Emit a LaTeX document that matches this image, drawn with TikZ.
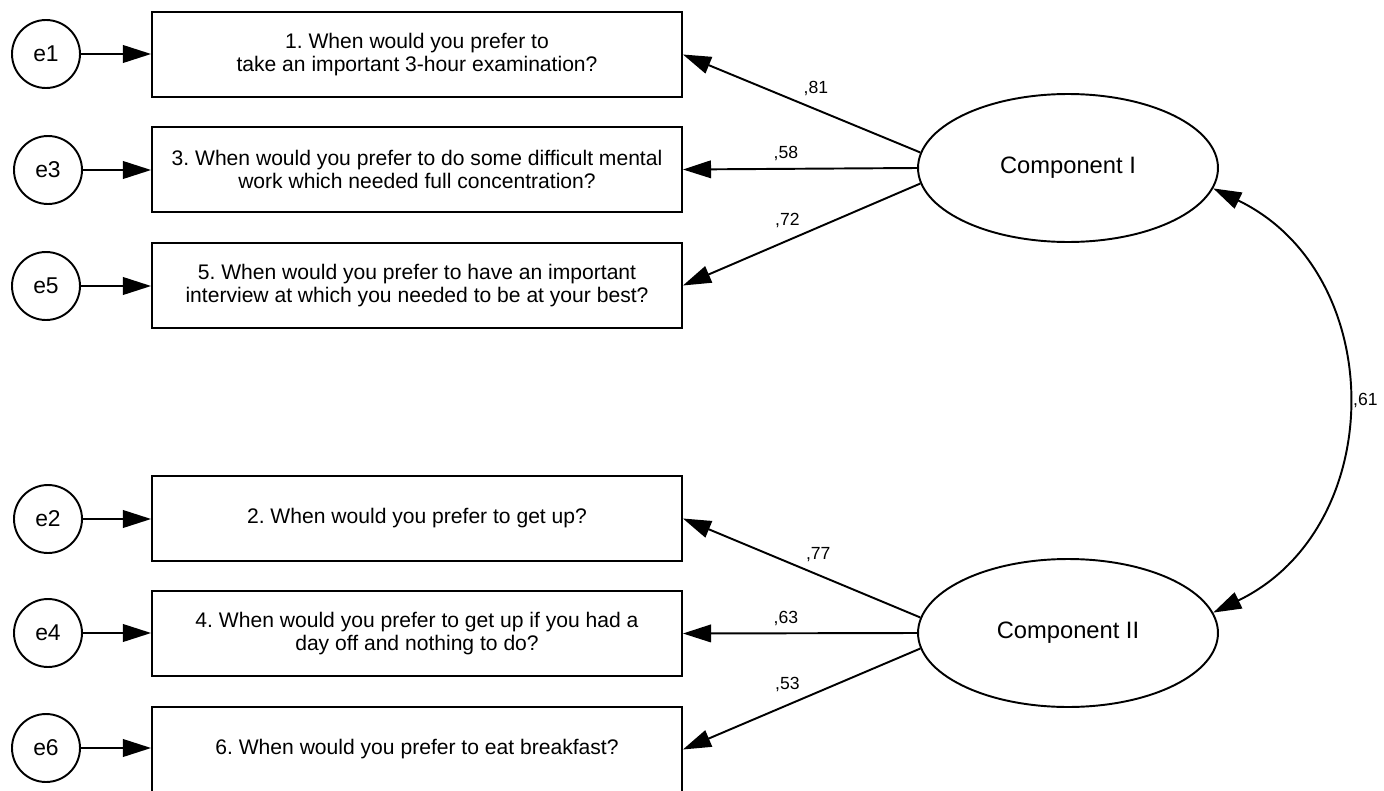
\documentclass[tikz,border=0pt]{standalone}
\usepackage{fontspec}
\setmainfont{Liberation Sans}
\usetikzlibrary{arrows.meta,shapes.geometric}
\frenchspacing

\begin{document}
\begin{tikzpicture}[x=0.02cm,y=-0.02cm,line width=1.1pt,
  item/.style={draw,rectangle,minimum width=10.6cm,minimum height=1.7cm,align=center,
    font=\fontsize{12}{13}\selectfont},
  err/.style={draw,circle,minimum size=1.36cm,inner sep=0pt,font=\fontsize{13}{15}\selectfont},
  factor/.style={draw,ellipse,minimum width=6cm,minimum height=2.96cm,inner sep=0pt,
    font=\fontsize{13.5}{16}\selectfont},
  load/.style={-{Triangle[length=16pt,width=10pt]}},
  cov/.style={{Triangle[length=16pt,width=10pt]}-{Triangle[length=16pt,width=10pt]}},
  est/.style={font=\fontsize{10}{12}\selectfont,inner sep=1pt}]
  \useasboundingbox (0,0) rectangle (1384,791);

  % observed items
  \node[item] (q1) at (417,54.5) {1. When would you prefer to\\take an important 3-hour examination?};
  \node[item] (q3) at (417,169.5) {3. When would you prefer to do some difficult mental\\work which needed full concentration?};
  \node[item] (q5) at (417,285.5) {5. When would you prefer to have an important\\interview at which you needed to be at your best?};
  \node[item] (q2) at (417,518.5) {2. When would you prefer to get up?};
  \node[item] (q4) at (417,633.5) {4. When would you prefer to get up if you had a\\day off and nothing to do?};
  \node[item] (q6) at (417,749.5) {6. When would you prefer to eat breakfast?};

  % error terms
  \node[err] (e1) at (46,54) {e1};
  \node[err] (e3) at (48,170) {e3};
  \node[err] (e5) at (46,286) {e5};
  \node[err] (e2) at (48,519) {e2};
  \node[err] (e4) at (48,633) {e4};
  \node[err] (e6) at (46,748) {e6};
  \foreach \i in {1,...,6}
    \draw[load] (e\i) -- (q\i.west |- e\i);

  % latent components
  \node[factor] (compI) at (1068,168) {Component I};
  \node[factor] (compII) at (1068,633) {Component II};

  \draw[load] (compI.174) -- node[est,pos=0.44,above=6pt] {,81} (q1.east);
  \draw[load] (compI.180) -- node[est,pos=0.56,above=3pt] {,58} (q3.east);
  \draw[load] (compI.186) -- node[est,pos=0.56,above=6pt] {,72} (q5.east);
  \draw[load] (compII.174) -- node[est,pos=0.43,above=6pt] {,77} (q2.east);
  \draw[load] (compII.180) -- node[est,pos=0.56,above=3pt] {,63} (q4.east);
  \draw[load] (compII.186) -- node[est,pos=0.56,above=6pt] {,53} (q6.east);

  \draw[cov] (compI.-8) .. controls +(176,85) and +(176,-85) .. node[est,pos=0.5,right=3pt] {,61} (compII.8);
\end{tikzpicture}
\end{document}
